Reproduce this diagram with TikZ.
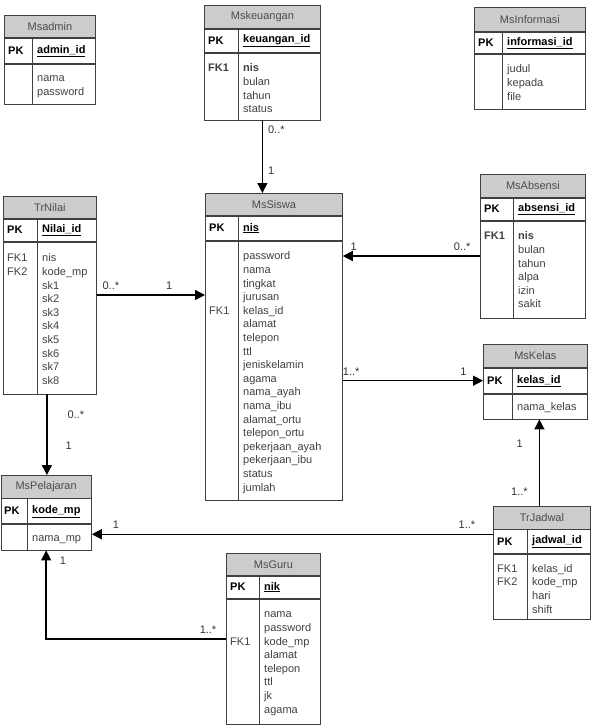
\documentclass[tikz,border=0pt]{standalone}
\usepackage{fontspec}
\setmainfont{Liberation Sans}
\usetikzlibrary{arrows.meta, calc}

\begin{document}
\begin{tikzpicture}[
    x=1pt, y=-1pt,
    font=\fontsize{11}{13.6}\selectfont,
    ttl/.style={draw=black!75, line width=0.8pt, fill=black!20, anchor=north west, inner sep=0pt, text=black!70},
    row/.style={draw=black!75, line width=0.8pt, anchor=north west, inner sep=0pt},
    key/.style={anchor=west, inner sep=0pt, font=\fontsize{11}{13.6}\selectfont\bfseries},
    lst/.style={anchor=north west, align=left, inner sep=0pt, text=black!75},
    conn/.style={line width=1.4pt, -{Triangle[length=10pt, width=10pt]}},
    lbl/.style={inner sep=0pt, text=black!80}
]
    \useasboundingbox (0,0) rectangle (591,725);

    % Msadmin
    \node[ttl, minimum width=91, minimum height=22] (admin) at (4,15) {Msadmin};
    \node[row, minimum width=91, minimum height=25] (admin_pk) at (admin.south west) {};
    \node[row, minimum width=91, minimum height=40] (admin_body) at (admin_pk.south west) {};
    \draw[row] ([xshift=28]admin_pk.north west) -- ([xshift=28]admin_body.south west);
    \node[key] (admin_pkt) at ([xshift=4]admin_pk.west) {PK};
    \node[key] (admin_id) at ([xshift=33]admin_pk.west) {\underline{admin\_id}};
    \node[lst] (admin_col) at ([xshift=33, yshift=-8.5]admin_body.north west) {\strut nama\\password};

    % Mskeuangan
    \node[ttl, minimum width=116, minimum height=23] (keu) at (204,5) {Mskeuangan};
    \node[row, minimum width=116, minimum height=23] (keu_pk) at (keu.south west) {};
    \node[row, minimum width=116, minimum height=67] (keu_body) at (keu_pk.south west) {};
    \draw[row] ([xshift=34]keu_pk.north west) -- ([xshift=34]keu_body.south west);
    \node[key] (keu_pkt) at ([xshift=4]keu_pk.west) {PK};
    \node[key] (keu_id) at ([xshift=39]keu_pk.west) {\underline{keuangan\_id}};
    \node[lst] (keu_fk) at ([xshift=4, yshift=-9.5]keu_body.north west) {\strut\textbf{FK1}};
    \node[lst] (keu_col) at ([xshift=39, yshift=-9.5]keu_body.north west) {\strut\textbf{nis}\\bulan\\tahun\\status};

    % MsInformasi
    \node[ttl, minimum width=111, minimum height=24] (info) at (474,7) {MsInformasi};
    \node[row, minimum width=111, minimum height=21] (info_pk) at (info.south west) {};
    \node[row, minimum width=111, minimum height=55] (info_body) at (info_pk.south west) {};
    \draw[row] ([xshift=28]info_pk.north west) -- ([xshift=28]info_body.south west);
    \node[key] (info_pkt) at ([xshift=4]info_pk.west) {PK};
    \node[key] (info_id) at ([xshift=33]info_pk.west) {\underline{informasi\_id}};
    \node[lst] (info_col) at ([xshift=33, yshift=-9.5]info_body.north west) {\strut judul\\kepada\\file};

    % TrNilai
    \node[ttl, minimum width=93, minimum height=22] (nilai) at (3,196) {TrNilai};
    \node[row, minimum width=93, minimum height=22] (nilai_pk) at (nilai.south west) {};
    \node[row, minimum width=93, minimum height=152] (nilai_body) at (nilai_pk.south west) {};
    \draw[row] ([xshift=34]nilai_pk.north west) -- ([xshift=34]nilai_body.south west);
    \node[key] (nilai_pkt) at ([xshift=4]nilai_pk.west) {PK};
    \node[key] (nilai_id) at ([xshift=39]nilai_pk.west) {\underline{Nilai\_id}};
    \node[lst] (nilai_fk) at ([xshift=4, yshift=-10.5]nilai_body.north west) {\strut FK1\\FK2};
    \node[lst] (nilai_col) at ([xshift=39, yshift=-10.5]nilai_body.north west) {\strut nis\\kode\_mp\\sk1\\sk2\\sk3\\sk4\\sk5\\sk6\\sk7\\sk8};

    % MsSiswa
    \node[ttl, minimum width=137, minimum height=22] (siswa) at (205,193) {MsSiswa};
    \node[row, minimum width=137, minimum height=24] (siswa_pk) at (siswa.south west) {};
    \node[row, minimum width=137, minimum height=259] (siswa_body) at (siswa_pk.south west) {};
    \draw[row] ([xshift=33]siswa_pk.north west) -- ([xshift=33]siswa_body.south west);
    \node[key] (siswa_pkt) at ([xshift=4]siswa_pk.west) {PK};
    \node[key] (siswa_id) at ([xshift=38]siswa_pk.west) {\underline{nis}};
    \node[lst] (siswa_fk) at ([xshift=4, yshift=-63.9]siswa_body.north west) {\strut FK1};
    \node[lst] (siswa_col) at ([xshift=38, yshift=-9.5]siswa_body.north west) {\strut password\\nama\\tingkat\\jurusan\\kelas\_id\\alamat\\telepon\\ttl\\jeniskelamin\\agama\\nama\_ayah\\nama\_ibu\\alamat\_ortu\\telepon\_ortu\\pekerjaan\_ayah\\pekerjaan\_ibu\\status\\jumlah};

    % MsAbsensi
    \node[ttl, minimum width=105, minimum height=23] (absen) at (480,174) {MsAbsensi};
    \node[row, minimum width=105, minimum height=22] (absen_pk) at (absen.south west) {};
    \node[row, minimum width=105, minimum height=97] (absen_body) at (absen_pk.south west) {};
    \draw[row] ([xshift=33]absen_pk.north west) -- ([xshift=33]absen_body.south west);
    \node[key] (absen_pkt) at ([xshift=4]absen_pk.west) {PK};
    \node[key] (absen_id) at ([xshift=38]absen_pk.west) {\underline{absensi\_id}};
    \node[lst] (absen_fk) at ([xshift=4, yshift=-9.5]absen_body.north west) {\strut\textbf{FK1}};
    \node[lst] (absen_col) at ([xshift=38, yshift=-9.5]absen_body.north west) {\strut\textbf{nis}\\bulan\\tahun\\alpa\\izin\\sakit};

    % MsKelas
    \node[ttl, minimum width=104, minimum height=23] (kelas) at (483,344) {MsKelas};
    \node[row, minimum width=104, minimum height=25] (kelas_pk) at (kelas.south west) {};
    \node[row, minimum width=104, minimum height=25] (kelas_body) at (kelas_pk.south west) {};
    \draw[row] ([xshift=29]kelas_pk.north west) -- ([xshift=29]kelas_body.south west);
    \node[key] (kelas_pkt) at ([xshift=4]kelas_pk.west) {PK};
    \node[key] (kelas_id) at ([xshift=34]kelas_pk.west) {\underline{kelas\_id}};
    \node[lst] (kelas_col) at ([xshift=34, yshift=-7.5]kelas_body.north west) {\strut nama\_kelas};

    % MsPelajaran
    \node[ttl, minimum width=90.5, minimum height=22.5] (pel) at (0.5,475) {MsPelajaran};
    \node[row, minimum width=90.5, minimum height=25] (pel_pk) at (pel.south west) {};
    \node[row, minimum width=90.5, minimum height=25.5] (pel_body) at (pel_pk.south west) {};
    \draw[row] ([xshift=26.5]pel_pk.north west) -- ([xshift=26.5]pel_body.south west);
    \node[key] (pel_pkt) at ([xshift=3.5]pel_pk.west) {PK};
    \node[key] (pel_id) at ([xshift=31.5]pel_pk.west) {\underline{kode\_mp}};
    \node[lst] (pel_col) at ([xshift=31.5, yshift=-7.5]pel_body.north west) {\strut nama\_mp};

    % MsGuru
    \node[ttl, minimum width=94, minimum height=22] (guru) at (226,553) {MsGuru};
    \node[row, minimum width=94, minimum height=22] (guru_pk) at (guru.south west) {};
    \node[row, minimum width=94, minimum height=125] (guru_body) at (guru_pk.south west) {};
    \draw[row] ([xshift=33]guru_pk.north west) -- ([xshift=33]guru_body.south west);
    \node[key] (guru_pkt) at ([xshift=4]guru_pk.west) {PK};
    \node[key] (guru_id) at ([xshift=38]guru_pk.west) {\underline{nik}};
    \node[lst] (guru_fk) at ([xshift=4, yshift=-36.7]guru_body.north west) {\strut FK1};
    \node[lst] (guru_col) at ([xshift=38, yshift=-9.5]guru_body.north west) {\strut nama\\password\\kode\_mp\\alamat\\telepon\\ttl\\jk\\agama};

    % TrJadwal
    \node[ttl, minimum width=97, minimum height=22.5] (jadwal) at (493,506) {TrJadwal};
    \node[row, minimum width=97, minimum height=23.5] (jadwal_pk) at (jadwal.south west) {};
    \node[row, minimum width=97, minimum height=65] (jadwal_body) at (jadwal_pk.south west) {};
    \draw[row] ([xshift=34]jadwal_pk.north west) -- ([xshift=34]jadwal_body.south west);
    \node[key] (jadwal_pkt) at ([xshift=4]jadwal_pk.west) {PK};
    \node[key] (jadwal_id) at ([xshift=39]jadwal_pk.west) {\underline{jadwal\_id}};
    \node[lst] (jadwal_fk) at ([xshift=4, yshift=-9]jadwal_body.north west) {\strut FK1\\FK2};
    \node[lst] (jadwal_col) at ([xshift=39, yshift=-9]jadwal_body.north west) {\strut kelas\_id\\kode\_mp\\hari\\shift};

    % Relations
    \draw[conn] (keu_body.south) -- (keu_body.south |- siswa.north)
        node[lbl, pos=0.13, right=5pt] {0..*} node[lbl, pos=0.69, right=5pt] {1};
    \draw[conn] ([yshift=13.5]absen_body.west) -- ([yshift=13.5]absen_body.west -| siswa_body.east)
        node[lbl, pos=0.13, above=5pt] {0..*} node[lbl, pos=0.92, above=5pt] {1};
    \draw[conn] ([yshift=23]nilai_body.east) -- ([yshift=23]nilai_body.east -| siswa_body.west)
        node[lbl, pos=0.13, above=5pt] {0..*} node[lbl, pos=0.67, above=5pt] {1};
    \draw[conn] ([xshift=-3]nilai_body.south) -- ([xshift=-3]nilai_body.south |- pel.north)
        node[lbl, pos=0.25, right=20pt] {0..*} node[lbl, pos=0.64, right=18pt] {1};
    \draw[conn] (siswa_body.east |- kelas_pk.west) -- (kelas_pk.west)
        node[lbl, pos=0.06, above=5pt] {1..*} node[lbl, pos=0.86, above=5pt] {1};
    \draw[conn] ([xshift=-2.5]jadwal.north) -- ([xshift=-2.5]jadwal.north |- kelas_body.south)
        node[lbl, pos=0.16, left=11pt] {1..*} node[lbl, pos=0.72, left=16pt] {1};
    \coordinate (pel_in) at ([yshift=3]pel_body.east);
    \draw[conn] (jadwal.west |- pel_in) -- (pel_in)
        node[lbl, pos=0.065, above=5pt] {1..*} node[lbl, pos=0.94, above=5pt] {1};
    \draw[conn] ([yshift=22.5]guru_body.west) -| (pel_body.south)
        node[lbl, pos=0.05, above=5pt] {1..*} node[lbl, pos=0.94, right=13pt] {1};

\end{tikzpicture}
\end{document}
